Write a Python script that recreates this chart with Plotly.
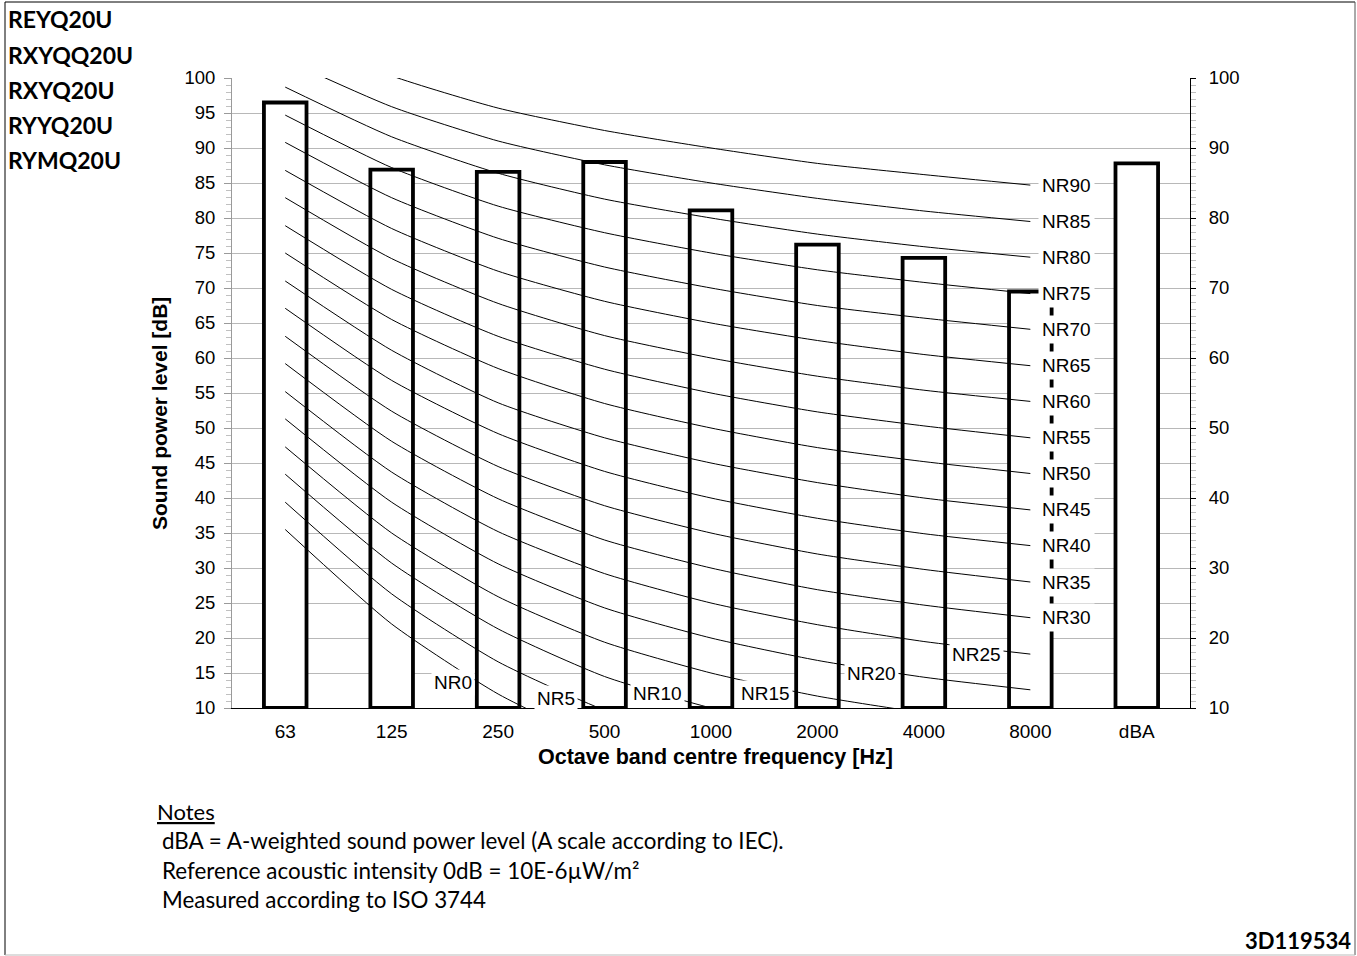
import plotly.graph_objects as go

# ---------------- data ----------------
categories = ["63", "125", "250", "500", "1000", "2000", "4000", "8000", "dBA"]
sound_power = [96.5, 86.9, 86.6, 88.0, 81.1, 76.2, 74.3, 69.5, 87.8]

octave_bands = ["63", "125", "250", "500", "1000", "2000", "4000", "8000"]
NR0 = [35.5, 22.0, 12.0, 4.8, 0.0, -3.5, -6.1, -8.0]
NR5 = [39.4, 26.3, 16.6, 9.7, 5.0, 1.6, -1.0, -2.8]
NR10 = [43.4, 30.7, 21.3, 14.5, 10.0, 6.6, 4.2, 2.3]
NR15 = [47.3, 35.0, 25.9, 19.4, 15.0, 11.7, 9.3, 7.4]
NR20 = [51.3, 39.4, 30.6, 24.3, 20.0, 16.8, 14.4, 12.6]
NR25 = [55.2, 43.7, 35.2, 29.2, 25.0, 21.9, 19.5, 17.7]
NR30 = [59.2, 48.1, 39.9, 34.0, 30.0, 26.9, 24.7, 22.9]
NR35 = [63.1, 52.4, 44.5, 38.9, 35.0, 32.0, 29.8, 28.0]
NR40 = [67.1, 56.8, 49.2, 43.8, 40.0, 37.1, 34.9, 33.2]
NR45 = [71.0, 61.1, 53.6, 48.6, 45.0, 42.2, 40.0, 38.3]
NR50 = [75.0, 65.5, 58.5, 53.5, 50.0, 47.2, 45.2, 43.5]
NR55 = [78.9, 69.8, 63.1, 58.4, 55.0, 52.3, 50.3, 48.6]
NR60 = [82.9, 74.2, 67.8, 63.2, 60.0, 57.4, 55.4, 53.8]
NR65 = [86.8, 78.5, 72.4, 68.1, 65.0, 62.5, 60.5, 58.9]
NR70 = [90.8, 82.9, 77.1, 73.0, 70.0, 67.5, 65.7, 64.1]
NR75 = [94.7, 87.2, 81.7, 77.9, 75.0, 72.6, 70.8, 69.2]
NR80 = [98.7, 91.6, 86.4, 82.7, 80.0, 77.7, 75.9, 74.4]
NR85 = [102.6, 95.9, 91.0, 87.6, 85.0, 82.8, 81.0, 79.5]
NR90 = [106.6, 100.3, 95.7, 92.5, 90.0, 87.8, 86.2, 84.7]

nr_names = ["NR0", "NR5", "NR10", "NR15", "NR20", "NR25", "NR30", "NR35", "NR40",
            "NR45", "NR50", "NR55", "NR60", "NR65", "NR70", "NR75", "NR80", "NR85", "NR90"]
nr_curves = [NR0, NR5, NR10, NR15, NR20, NR25, NR30, NR35, NR40,
             NR45, NR50, NR55, NR60, NR65, NR70, NR75, NR80, NR85, NR90]

# label placement for the low curves (category index, dB)
low_label_x = [1.58, 2.54, 3.50, 4.51, 5.51, 6.49]
low_label_y = [13.7, 11.3, 12.1, 12.1, 14.9, 17.6]

model_names = ["REYQ20U", "RXYQQ20U", "RXYQ20U", "RYYQ20U", "RYMQ20U"]
notes = ["dBA = A-weighted sound power level (A scale according to IEC).",
         "Reference acoustic intensity 0dB = 10E-6\u00b5W/m\u00b2",
         "Measured according to ISO 3744"]
doc_code = "3D119534"

y_min, y_max = 10, 100

# ---------------- figure ----------------
W, H = 1357, 956
L, R, T, B = 232, 1190, 78, 708


def px(x):
    return (x - L) / (R - L)


def py(y):
    return (B - y) / (B - T)


ARIAL = "Arial, Liberation Sans, sans-serif"
CAL = "Lato, Carlito, Calibri, sans-serif"

fig = go.Figure()

fig.add_trace(go.Bar(
    x=categories,
    y=[v - y_min for v in sound_power],
    base=y_min,
    width=0.4,
    marker=dict(color="white", line=dict(color="black", width=3.8)),
    hoverinfo="skip",
    showlegend=False,
))

for name, vals in zip(nr_names, nr_curves):
    fig.add_trace(go.Scatter(
        x=octave_bands, y=vals, mode="lines",
        line=dict(color="black", width=1, shape="spline", smoothing=0.6),
        name=name, showlegend=False, hoverinfo="skip",
    ))

# invisible trace to activate the right axis
fig.add_trace(go.Scatter(x=[categories[0]], y=[None], yaxis="y2",
                         mode="lines", showlegend=False, hoverinfo="skip"))

annotations = []
# NR labels on the right
for name, vals in zip(nr_names[6:], nr_curves[6:]):
    annotations.append(dict(x=7.07, y=vals[-1], xref="x", yref="y", text=name,
                            showarrow=False, xanchor="left", yanchor="middle",
                            bgcolor="white", borderpad=3,
                            font=dict(family=ARIAL, size=19, color="black")))
# NR labels at the bottom
for name, lx, ly in zip(nr_names[:6], low_label_x, low_label_y):
    annotations.append(dict(x=lx, y=ly, xref="x", yref="y", text=name,
                            showarrow=False, xanchor="center", yanchor="middle",
                            bgcolor="white", borderpad=2,
                            font=dict(family=ARIAL, size=19, color="black")))

# axis titles
annotations.append(dict(x=px(715), y=py(757), xref="paper", yref="paper",
                        text="<b>Octave band centre frequency [Hz]</b>", showarrow=False,
                        xanchor="center", yanchor="middle",
                        font=dict(family=ARIAL, size=21.5, color="black")))
annotations.append(dict(x=px(159), y=py(414), xref="paper", yref="paper",
                        text="<b>Sound power level [dB]</b>", showarrow=False,
                        textangle=-90, xanchor="center", yanchor="middle",
                        font=dict(family=ARIAL, size=21, color="black")))

# model names
for name, yy in zip(model_names, [19, 55, 90, 125, 160]):
    annotations.append(dict(x=px(6), y=py(yy), xref="paper", yref="paper",
                            text="<b>" + name + "</b>", showarrow=False,
                            xanchor="left", yanchor="middle",
                            font=dict(family=CAL, size=23, color="black")))

# notes
annotations.append(dict(x=px(155), y=py(811), xref="paper", yref="paper",
                        text="<u>Notes</u>", showarrow=False,
                        xanchor="left", yanchor="middle",
                        font=dict(family=CAL, size=22, color="black")))
for line, yy in zip(notes, [840, 870, 899]):
    annotations.append(dict(x=px(160), y=py(yy), xref="paper", yref="paper",
                            text=line, showarrow=False,
                            xanchor="left", yanchor="middle",
                            font=dict(family=CAL, size=22.4, color="black")))
annotations.append(dict(x=px(1353), y=py(940), xref="paper", yref="paper",
                        text="<b>" + doc_code + "</b>", showarrow=False,
                        xanchor="right", yanchor="middle",
                        font=dict(family=CAL, size=22, color="black")))

shapes = [
    dict(type="line", xref="paper", yref="paper", x0=px(5), x1=px(1355), y0=py(2), y1=py(2),
         line=dict(color="black", width=1)),
    dict(type="line", xref="paper", yref="paper", x0=px(5), x1=px(5), y0=py(2), y1=py(955),
         line=dict(color="black", width=1)),
    dict(type="line", xref="paper", yref="paper", x0=px(1355), x1=px(1355), y0=py(2), y1=py(955),
         line=dict(color="#555555", width=1)),
    dict(type="line", xref="paper", yref="paper", x0=px(5), x1=px(1355), y0=py(955), y1=py(955),
         line=dict(color="#bbbbbb", width=1)),
]

fig.update_layout(
    width=W, height=H,
    margin=dict(l=L, r=W - R, t=T, b=H - B, pad=0),
    paper_bgcolor="white", plot_bgcolor="white",
    showlegend=False,
    bargap=0.6,
    annotations=annotations,
    shapes=shapes,
    xaxis=dict(
        type="category", categoryorder="array", categoryarray=categories,
        range=[-0.5, 8.5], showgrid=False, zeroline=False,
        showline=True, linecolor="black", linewidth=1,
        ticks="", tickfont=dict(family=ARIAL, size=19, color="black"),
        ticklabelstandoff=6,
    ),
    yaxis=dict(
        range=[y_min, y_max], dtick=5, tick0=0,
        showgrid=True, gridcolor="#b8b8b8", gridwidth=1, zeroline=False,
        showline=True, linecolor="#9a9a9a", linewidth=1,
        ticks="outside", ticklen=7, tickcolor="#9a9a9a",
        tickfont=dict(family=ARIAL, size=18.5, color="black"),
        ticklabelstandoff=5,
        minor=dict(dtick=1, ticks="outside", ticklen=5, tickcolor="#c0c0c0", showgrid=False),
    ),
    yaxis2=dict(
        range=[y_min, y_max], dtick=10, tick0=0, overlaying="y", side="right",
        showgrid=False, zeroline=False,
        showline=True, linecolor="black", linewidth=1,
        ticks="outside", ticklen=5, tickcolor="black",
        tickfont=dict(family=ARIAL, size=18.5, color="black"),
        ticklabelstandoff=9,
        minor=dict(dtick=1, ticks="outside", ticklen=5, tickcolor="#c0c0c0", showgrid=False),
    ),
)

fig.write_html("out.html",
               config={"displayModeBar": False},
               post_script="document.body.style.margin='0';document.body.style.overflow='hidden';")
